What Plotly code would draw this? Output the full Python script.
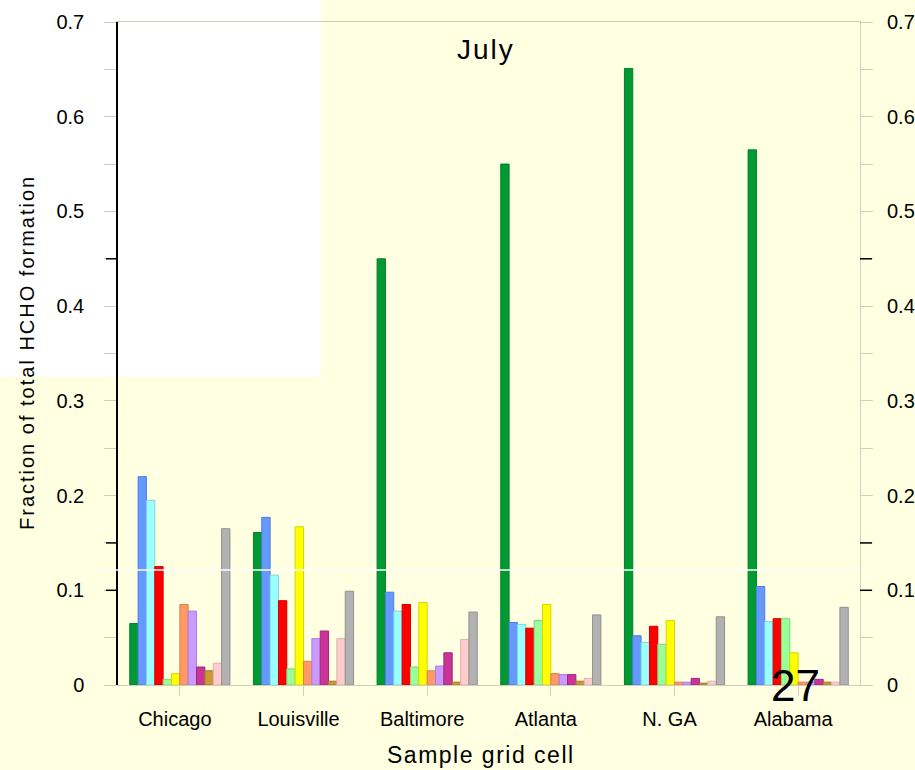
import plotly.graph_objects as go

# Sample grid cells and the source categories contributing to HCHO formation
cells = ["Chicago", "Louisville", "Baltimore", "Atlanta", "N. GA", "Alabama"]

s01 = [0.065, 0.161, 0.450, 0.550, 0.651, 0.565]
s02 = [0.220, 0.177, 0.098, 0.066, 0.052, 0.104]
s03 = [0.195, 0.116, 0.078, 0.064, 0.045, 0.067]
s04 = [0.125, 0.089, 0.085, 0.060, 0.062, 0.070]
s05 = [0.006, 0.017, 0.019, 0.068, 0.043, 0.070]
s06 = [0.012, 0.167, 0.087, 0.085, 0.068, 0.034]
s07 = [0.085, 0.025, 0.015, 0.012, 0.003, 0.003]
s08 = [0.078, 0.049, 0.020, 0.011, 0.003, 0.003]
s09 = [0.019, 0.057, 0.034, 0.011, 0.007, 0.006]
s10 = [0.015, 0.004, 0.003, 0.004, 0.002, 0.003]
s11 = [0.023, 0.049, 0.048, 0.007, 0.004, 0.003]
s12 = [0.165, 0.099, 0.077, 0.074, 0.072, 0.082]

series = [s01, s02, s03, s04, s05, s06, s07, s08, s09, s10, s11, s12]
fills = ["#009933", "#6699FF", "#99FFFF", "#FF0000", "#99FF99", "#FFFF00",
         "#FF9966", "#CC99FF", "#CC3399", "#CC9933", "#FFCCCC", "#B2B2B2"]
edges = ["#00802b", "#4d7fe0", "#7fd6d6", "#d00000", "#80d080", "#d6d600",
         "#e07f50", "#a77fe0", "#a0287a", "#a07828", "#e0b0b0", "#909090"]

ticks = [0, 0.1, 0.2, 0.3, 0.4, 0.5, 0.6, 0.7]
tick_text = ["0", "0.1", "0.2", "0.3", "0.4", "0.5", "0.6", "0.7"]
dark_ticks = [0.1, 0.15, 0.45]

bg = "#FFFFE1"
grey = "#CFCFBE"
font = "Liberation Sans, Arial, sans-serif"

fig = go.Figure()
for vals, fc, ec in zip(series, fills, edges):
    fig.add_trace(go.Bar(
        x=cells, y=vals,
        marker=dict(color=fc, line=dict(color=ec, width=1)),
        showlegend=False,
    ))

# invisible trace so the right-hand axis is rendered
fig.add_trace(go.Scatter(x=[cells[0]], y=[0], yaxis="y2", mode="markers",
                         marker=dict(opacity=0), showlegend=False,
                         hoverinfo="skip"))

shapes = [
    dict(type="rect", xref="paper", yref="paper", layer="below",
         x0=-118 / 742, x1=(321 - 118) / 742,
         y0=(685 - 377) / 663, y1=(770 - 22) / 663,
         fillcolor="#FFFFFF", line=dict(width=0)),
    dict(type="line", xref="paper", yref="y",
         x0=-24 / 742, x1=1.0, y0=0.1214, y1=0.1214,
         line=dict(color="#FFFFFF", width=1.5)),
]
for v in dark_ticks:
    shapes.append(dict(type="line", xref="paper", yref="y",
                       x0=-12 / 742, x1=0, y0=v, y1=v,
                       line=dict(color="#000000", width=1.5)))
    shapes.append(dict(type="line", xref="paper", yref="y",
                       x0=1, x1=1 + 12 / 742, y0=v, y1=v,
                       line=dict(color="#000000", width=1.5)))

fig.update_layout(
    width=915, height=770,
    margin=dict(l=118, r=55, t=22, b=85, autoexpand=False),
    paper_bgcolor=bg,
    plot_bgcolor="rgba(0,0,0,0)",
    barmode="group",
    bargap=0.19,
    bargroupgap=0,
    font=dict(family=font, color="#000000", size=20),
    xaxis=dict(
        range=[-0.5, 5.5], automargin=False,
        showline=True, linecolor=grey, linewidth=1, mirror=True,
        ticks="outside", ticklen=10, tickcolor=grey,
        tickfont=dict(size=20), showgrid=False, zeroline=False,
        ticklabelstandoff=6, ticklabelshift=-5,
    ),
    yaxis=dict(
        range=[0, 0.7], automargin=False,
        tickvals=ticks, ticktext=tick_text,
        showline=True, linecolor="#000000", linewidth=1.5,
        ticks="outside", ticklen=12, tickcolor=grey,
        minor=dict(ticks="outside", dtick=0.05, ticklen=12, tickcolor=grey),
        tickfont=dict(size=20), showgrid=False, zeroline=False,
        ticklabelstandoff=16,
    ),
    yaxis2=dict(
        range=[0, 0.7], overlaying="y", side="right", automargin=False,
        tickvals=ticks, ticktext=tick_text,
        showline=True, linecolor=grey, linewidth=1,
        ticks="outside", ticklen=12, tickcolor=grey,
        minor=dict(ticks="outside", dtick=0.05, ticklen=12, tickcolor=grey),
        tickfont=dict(size=20), showgrid=False, zeroline=False,
        ticklabelstandoff=10,
    ),
    shapes=shapes,
    annotations=[
        dict(text='<span style="letter-spacing:2px">July</span>',
             xref="paper", yref="paper",
             x=(486 - 118) / 742, y=(685 - 50) / 663,
             xanchor="center", yanchor="middle",
             showarrow=False, font=dict(size=28)),
        dict(text='<span style="letter-spacing:1.5px">Sample grid cell</span>',
             xref="paper", yref="paper",
             x=(481 - 118) / 742, y=(685 - 755) / 663,
             xanchor="center", yanchor="middle",
             showarrow=False, font=dict(size=23)),
        dict(text='<span style="letter-spacing:2px">Fraction of total HCHO formation</span>',
             xref="paper", yref="paper",
             x=(27 - 118) / 742, y=(685 - 353) / 663, textangle=-90,
             xanchor="center", yanchor="middle",
             showarrow=False, font=dict(size=20)),
        dict(text="27", xref="paper", yref="paper",
             x=(795 - 118) / 742, y=(685 - 685) / 663,
             xanchor="center", yanchor="middle",
             showarrow=False, font=dict(size=44)),
    ],
)

fig.write_html("out.html")
